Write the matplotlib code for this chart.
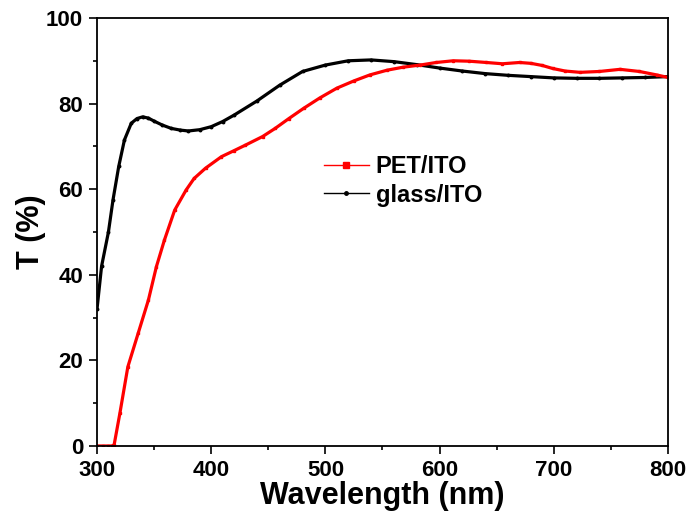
import matplotlib
matplotlib.use("Agg")
import matplotlib.pyplot as plt
from matplotlib.lines import Line2D
from matplotlib.ticker import MultipleLocator

plt.rcParams['font.family'] = ['Liberation Sans', 'DejaVu Sans']
plt.rcParams['font.weight'] = 'bold'

# glass/ITO transmittance
glass_wl = [300, 304, 310, 314, 319, 324, 330, 335, 340, 345, 350, 357, 365,
            373, 380, 390, 400, 410, 420, 440, 460, 480, 500, 520, 540, 560,
            580, 600, 620, 640, 660, 680, 700, 720, 740, 760, 780, 800]
glass_t = [32, 42, 50, 57.5, 65.3, 71.5, 75.4, 76.5, 76.9, 76.6, 75.9, 75.0,
           74.2, 73.8, 73.6, 73.9, 74.6, 75.8, 77.3, 80.6, 84.3, 87.5, 89.0,
           90.0, 90.2, 89.8, 89.1, 88.3, 87.6, 87.0, 86.6, 86.3, 86.0, 85.9,
           85.9, 86.0, 86.1, 86.3]

# PET/ITO transmittance
pet_wl = [300, 305, 310, 313, 315, 320, 327, 336, 345, 352, 359, 368, 378,
          385, 395, 409, 420, 430, 445, 456, 468, 481, 495, 510, 525, 539,
          554, 568, 583, 597, 612, 626, 641, 655, 670, 680, 690, 699, 710,
          723, 740, 758, 775, 790, 800]
pet_t = [0, 0, 0, 0, 0.3, 7.6, 18.5, 26.3, 34.1, 41.9, 48.1, 55.1, 59.8,
         62.5, 64.9, 67.6, 69.0, 70.3, 72.3, 74.2, 76.5, 78.9, 81.3, 83.6,
         85.3, 86.7, 87.8, 88.5, 89.0, 89.6, 90.0, 89.9, 89.6, 89.3, 89.6,
         89.4, 88.9, 88.2, 87.6, 87.3, 87.5, 88.0, 87.5, 86.7, 86.1]

fig = plt.figure(figsize=(6.94, 5.21), dpi=100)
ax = fig.add_axes([0.1398, 0.144, 0.8227, 0.8215])

ax.plot(glass_wl, glass_t, color='black', lw=2.3, marker='o', ms=1.8)
ax.plot(pet_wl, pet_t, color='#ff0000', lw=2.3, marker='s', ms=1.8)

ax.set_xlim(300, 800)
ax.set_ylim(0, 100)
ax.xaxis.set_major_locator(MultipleLocator(100))
ax.xaxis.set_minor_locator(MultipleLocator(50))
ax.yaxis.set_major_locator(MultipleLocator(20))
ax.yaxis.set_minor_locator(MultipleLocator(10))
ax.tick_params(which='major', direction='out', length=6, width=1.2,
               labelsize=16, pad=4)
ax.tick_params(which='minor', direction='out', length=3, width=1.2)
for s in ax.spines.values():
    s.set_linewidth(1.3)

ax.set_xlabel('Wavelength (nm)', fontsize=22, fontweight='bold', labelpad=0)
ax.set_ylabel('T (%)', fontsize=22, fontweight='bold', labelpad=0)

handles = [Line2D([], [], color='#ff0000', lw=1, marker='s', ms=4),
           Line2D([], [], color='black', lw=1, marker='o', ms=2.5)]
ax.legend(handles, ['PET/ITO', 'glass/ITO'], loc='upper left',
          bbox_to_anchor=(0.36, 0.73), frameon=False,
          handlelength=1.9, handletextpad=0.3, labelspacing=0.25,
          prop={'weight': 'bold', 'size': 17})

fig.savefig('out.png', dpi=100)
